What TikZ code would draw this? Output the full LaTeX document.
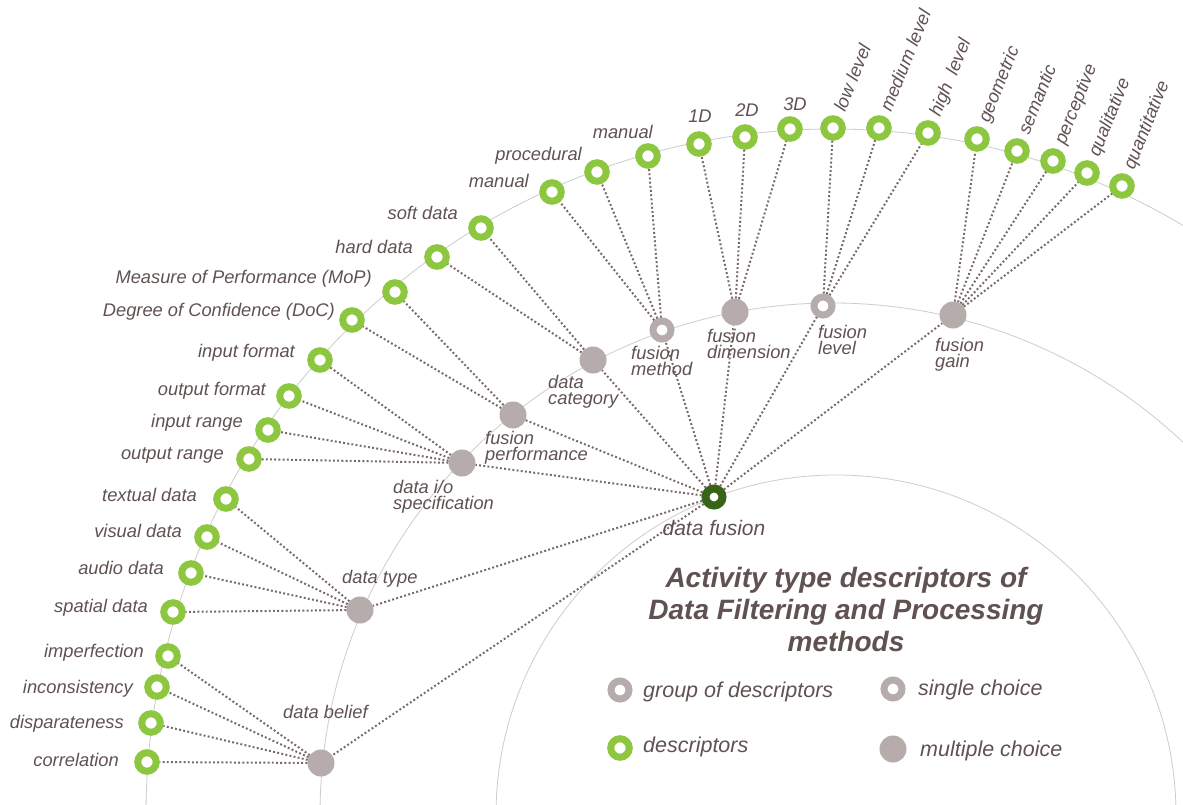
\documentclass[tikz,border=0pt]{standalone}
\usepackage{fontspec}
\setmainfont{Liberation Sans}
\definecolor{dgreen}{RGB}{141,198,63}
\definecolor{rootgreen}{RGB}{55,100,25}
\definecolor{nodegray}{RGB}{183,172,172}
\definecolor{textc}{RGB}{97,82,82}
\definecolor{linec}{RGB}{120,105,105}
\definecolor{guidec}{RGB}{205,205,205}
\tikzset{
 guide/.style={draw=guidec, line width=0.8pt},
 conn/.style={draw=linec, line width=2pt, dash pattern=on 1.9pt off 2.3pt},
 desc/.style={circle, draw=dgreen, line width=7pt, fill=white, minimum size=18.5pt, inner sep=0pt},
 multi/.style={circle, fill=nodegray, minimum size=27pt, inner sep=0pt},
 single/.style={circle, draw=nodegray, line width=7pt, fill=white, minimum size=18pt, inner sep=0pt},
 root/.style={circle, draw=rootgreen, line width=8pt, fill=white, minimum size=17pt, inner sep=0pt},
 lab/.style={text=textc, inner sep=0pt, font=\fontsize{18.3}{16}\selectfont\itshape},
 llab/.style={lab, anchor=base east},
 clab/.style={lab, anchor=base},
 rlab/.style={lab, anchor=base west, rotate=68},
 glab/.style={lab, anchor=west, align=left},
 leg/.style={text=textc, inner sep=0pt, anchor=base west, font=\fontsize{21.5}{24}\selectfont\itshape},
 titlestyle/.style={inner sep=0pt, font=\fontsize{28}{32}\selectfont\bfseries\itshape, align=center},
}
\begin{document}
\begin{tikzpicture}[x=1pt,y=-1pt]
\useasboundingbox (0,0) rectangle (1183,805);
\clip (0,0) rectangle (1183,805);
\fill[white] (0,0) rectangle (1183,805);
% guide circles
\draw[guide] (832,815) circle[radius=686pt];
\draw[guide] (832,815) circle[radius=512pt];
\draw[guide] (836,815) circle[radius=340pt];

% descriptors
\node[desc] (corr) at (147,762) {};
\node[desc] (disp) at (151,723) {};
\node[desc] (inco) at (157,687) {};
\node[desc] (impf) at (168,656) {};
\node[desc] (spat) at (173,612) {};
\node[desc] (audi) at (191,573) {};
\node[desc] (visu) at (207,537) {};
\node[desc] (txt)  at (226,499) {};
\node[desc] (orng) at (249,459) {};
\node[desc] (irng) at (268,430) {};
\node[desc] (ofmt) at (289,396) {};
\node[desc] (ifmt) at (320,360) {};
\node[desc] (doc)  at (352,320) {};
\node[desc] (mop)  at (395,292) {};
\node[desc] (hard) at (437,257) {};
\node[desc] (soft) at (481,228) {};
\node[desc] (manA) at (552,192) {};
\node[desc] (proc) at (597,172) {};
\node[desc] (manB) at (648,156) {};
\node[desc] (dA)   at (699,144) {};
\node[desc] (dB)   at (745,137) {};
\node[desc] (dC)   at (790,129) {};
\node[desc] (low)  at (833,128) {};
\node[desc] (med)  at (879,128) {};
\node[desc] (high) at (928,133) {};
\node[desc] (geom) at (977,139) {};
\node[desc] (sema) at (1017,151) {};
\node[desc] (perc) at (1053,161) {};
\node[desc] (qual) at (1087,173) {};
\node[desc] (quan) at (1122,186) {};

% groups
\node[multi]  (belief) at (321,763) {};
\node[multi]  (dtype)  at (360,610) {};
\node[multi]  (io)     at (462,463) {};
\node[multi]  (perf)   at (513,415) {};
\node[multi]  (cat)    at (593,360) {};
\node[single] (meth)   at (662,330) {};
\node[multi]  (dim)    at (735,312) {};
\node[single] (lev)    at (823,306) {};
\node[multi]  (gain)   at (953,315) {};
\node[root]   (fus)    at (714,497) {};

% connectors
\foreach \g in {belief,dtype,io,perf,cat,meth,dim,lev,gain}
  \draw[conn] (fus) -- (\g);
\foreach \d in {corr,disp,inco,impf} \draw[conn] (belief) -- (\d);
\foreach \d in {spat,audi,visu,txt} \draw[conn] (dtype) -- (\d);
\foreach \d in {orng,irng,ofmt,ifmt} \draw[conn] (io) -- (\d);
\foreach \d in {doc,mop} \draw[conn] (perf) -- (\d);
\foreach \d in {hard,soft} \draw[conn] (cat) -- (\d);
\foreach \d in {manA,proc,manB} \draw[conn] (meth) -- (\d);
\foreach \d in {dA,dB,dC} \draw[conn] (dim) -- (\d);
\foreach \d in {low,med,high} \draw[conn] (lev) -- (\d);
\foreach \d in {geom,sema,perc,qual,quan} \draw[conn] (gain) -- (\d);

% descriptor labels
\node[llab] (lcorr) at (119,766) {correlation};
\node[llab] (ldisp) at (124,728) {disparateness};
\node[llab] (linco) at (133,693) {inconsistency};
\node[llab] (limpf) at (144,657) {imperfection};
\node[llab] (lspat) at (148,612) {spatial data};
\node[llab] (laudi) at (164,574) {audio data};
\node[llab] (lvisu) at (182,537) {visual data};
\node[llab] (ltxt)  at (197,501) {textual data};
\node[llab] (lorng) at (224,459) {output range};
\node[llab] (lirng) at (243,427) {input range};
\node[llab] (lofmt) at (266,395) {output format};
\node[llab] (lifmt) at (295,357) {input format};
\node[llab] (ldoc)  at (335,316) {Degree of Confidence (DoC)};
\node[llab] (lmop)  at (372,283) {Measure of Performance (MoP)};
\node[llab] (lhard) at (413,253) {hard data};
\node[llab] (lsoft) at (458,219) {soft data};
\node[llab] (lmanA) at (529,188) {manual};
\node[llab] (lproc) at (582,161) {procedural};
\node[llab] (lmanB) at (653,139) {manual};
\node[clab] (ldA) at (700,123) {1D};
\node[clab] (ldB) at (747,117) {2D};
\node[clab] (ldC) at (795,111) {3D};
\node[rlab] (llow)  at (845,113) {low level};
\node[rlab] (lmed)  at (891,113) {medium level};
\node[rlab] (lhigh) at (940,118) {high~ level};
\node[rlab] (lgeom) at (989,124) {geometric};
\node[rlab] (lsema) at (1029,136) {semantic};
\node[rlab] (lperc) at (1065,146) {perceptive};
\node[rlab] (lqual) at (1099,158) {qualitative};
\node[rlab] (lquan) at (1134,171) {quantitative};

% group labels
\node[lab, anchor=base west] (lbelief) at (283,718) {data belief};
\node[lab, anchor=base west] (ldtype) at (342,583) {data type};
\node[glab] (lio)   at (393,497) {data i/o\\specification};
\node[glab] (lperf) at (485,448) {fusion\\performance};
\node[glab] (lcat)  at (548,392) {data\\category};
\node[glab] (lmeth) at (631,361) {fusion\\method};
\node[glab] (ldim)  at (707,344) {fusion\\dimension};
\node[glab] (llev)  at (818,340) {fusion\\level};
\node[glab] (lgain) at (935,355) {fusion\\gain};
\node[text=textc, inner sep=0pt, anchor=base, font=\fontsize{21}{24}\selectfont\itshape] (lfus) at (714,535) {data fusion};

% title
\node[titlestyle, text=textc] (title) at (846,609)
  {Activity type descriptors of\\Data Filtering and Processing\\methods};

% legend
\node[single] (lgA) at (620,690) {};
\node[leg] (lgAt) at (643,697) {group of descriptors};
\node[single] (lgB) at (893,689) {};
\node[leg] (lgBt) at (918,695) {single choice};
\node[desc] (lgC) at (620,748) {};
\node[leg] (lgCt) at (643,752) {descriptors};
\node[multi] (lgD) at (893,749) {};
\node[leg] (lgDt) at (920,756) {multiple choice};
\end{tikzpicture}
\end{document}
